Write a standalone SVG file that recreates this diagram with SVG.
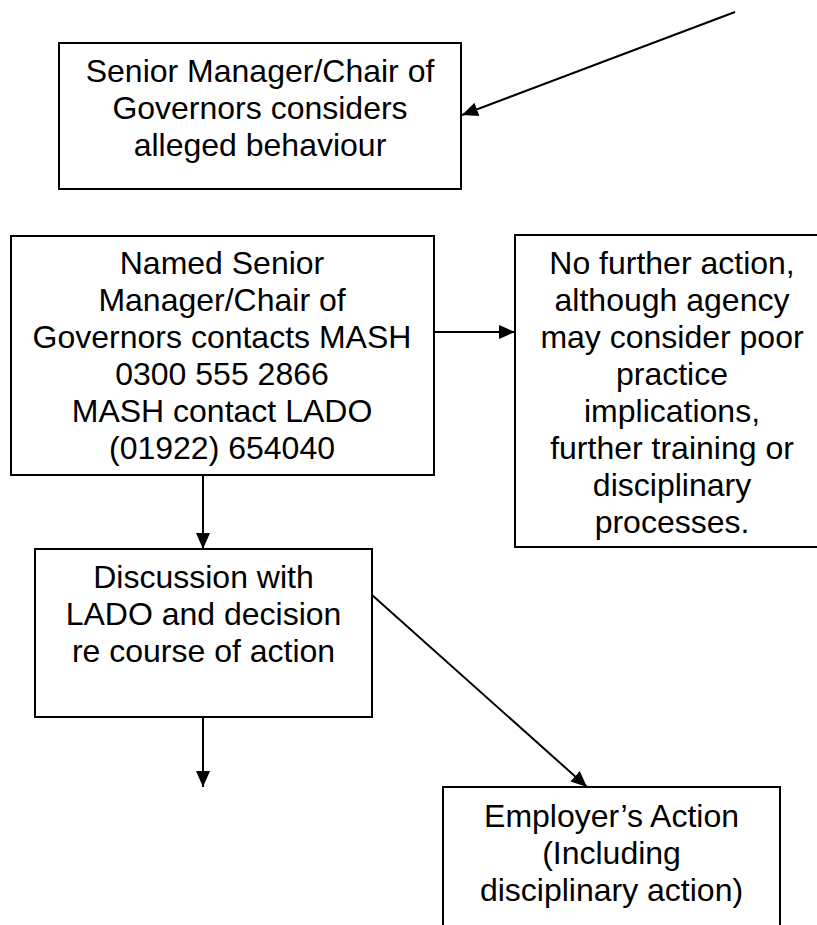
<svg xmlns="http://www.w3.org/2000/svg" width="817" height="925" viewBox="0 0 817 925">
<style>
  .box { fill: #ffffff; stroke: #000000; stroke-width: 2; }
  .lbl { font-family: "Liberation Sans", Arial, sans-serif; font-size: 32px; fill: #000000; text-anchor: middle; }
  .conn { stroke: #000000; stroke-width: 2; fill: none; marker-end: url(#arrow); }
</style>
<defs>
  <marker id="arrow" markerUnits="userSpaceOnUse" markerWidth="16" markerHeight="14" refX="16" refY="7" orient="auto">
    <path d="M0,0 L16,7 L0,14 z" fill="#000000"/>
  </marker>
</defs>
<rect width="817" height="925" fill="#ffffff"/>
<g id="connectors">
  <line class="conn" x1="735" y1="12" x2="462" y2="115"/>
  <line class="conn" x1="434" y1="332" x2="515" y2="332"/>
  <line class="conn" x1="203" y1="475" x2="203" y2="549"/>
  <line class="conn" x1="203" y1="717" x2="203" y2="787"/>
  <line class="conn" x1="372" y1="595" x2="587" y2="787"/>
</g>
<g id="senior-manager">
  <rect class="box" x="59" y="43" width="402" height="146"/>
  <text class="lbl" x="260" y="82">Senior Manager/Chair of</text>
  <text class="lbl" x="260" y="119">Governors considers</text>
  <text class="lbl" x="260" y="156">alleged behaviour</text>
</g>
<g id="named-senior-manager">
  <rect class="box" x="11" y="236" width="423" height="239"/>
  <text class="lbl" x="222" y="274">Named Senior</text>
  <text class="lbl" x="222" y="311">Manager/Chair of</text>
  <text class="lbl" x="222" y="348">Governors contacts MASH</text>
  <text class="lbl" x="222" y="385">0300 555 2866</text>
  <text class="lbl" x="222" y="422">MASH contact LADO</text>
  <text class="lbl" x="222" y="459">(01922) 654040</text>
</g>
<g id="no-further-action">
  <rect class="box" x="515" y="235" width="320" height="312"/>
  <text class="lbl" x="672" y="274">No further action,</text>
  <text class="lbl" x="672" y="311">although agency</text>
  <text class="lbl" x="672" y="348">may consider poor</text>
  <text class="lbl" x="672" y="385">practice</text>
  <text class="lbl" x="672" y="422">implications,</text>
  <text class="lbl" x="672" y="459">further training or</text>
  <text class="lbl" x="672" y="496">disciplinary</text>
  <text class="lbl" x="672" y="533">processes.</text>
</g>
<g id="discussion-lado">
  <rect class="box" x="35" y="549" width="337" height="168"/>
  <text class="lbl" x="203.5" y="588">Discussion with</text>
  <text class="lbl" x="203.5" y="625">LADO and decision</text>
  <text class="lbl" x="203.5" y="662">re course of action</text>
</g>
<g id="employers-action">
  <rect class="box" x="443" y="787" width="337" height="160"/>
  <text class="lbl" x="611.5" y="827">Employer’s Action</text>
  <text class="lbl" x="611.5" y="864">(Including</text>
  <text class="lbl" x="611.5" y="901">disciplinary action)</text>
</g>
</svg>
